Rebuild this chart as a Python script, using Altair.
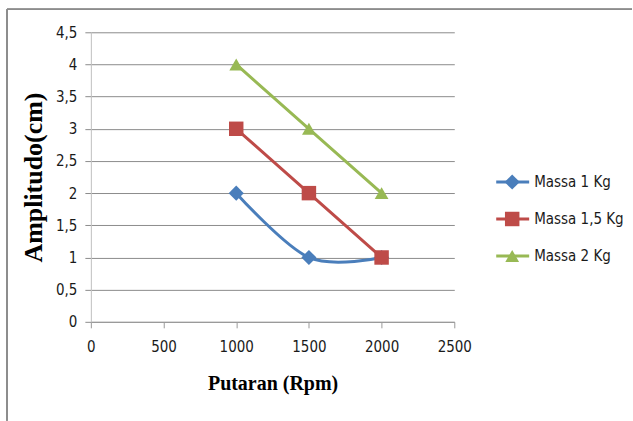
import altair as alt
import pandas as pd

rpm = [1000, 1500, 2000]
massa_1 = [2, 1, 1]
massa_15 = [3, 2, 1]
massa_2 = [4, 3, 2]
series = ["Massa 1 Kg", "Massa 1,5 Kg", "Massa 2 Kg"]
line_colors = ["#4A7EBB", "#BE4B48", "#98B954"]
shapes = ["diamond", "square", "triangle-up"]
sizes = [230, 190, 240]
y_ticks = [0, 0.5, 1, 1.5, 2, 2.5, 3, 3.5, 4, 4.5]
x_ticks = [0, 500, 1000, 1500, 2000, 2500]

rows = []
for s, vals in zip(series, [massa_1, massa_15, massa_2]):
    for x, v in zip(rpm, vals):
        rows.append({"rpm": x, "amp": v, "series": s})
df = pd.DataFrame(rows)
leg = pd.DataFrame({"series": series})

FONT = "DejaVu Sans Condensed, Liberation Sans"
SERIF = "Liberation Serif"

color = alt.Color("series:N", scale=alt.Scale(domain=series, range=line_colors), legend=None)
shape = alt.Shape("series:N", scale=alt.Scale(domain=series, range=shapes), legend=None)
size = alt.Size("series:N", scale=alt.Scale(domain=series, range=sizes), legend=None)

xaxis = alt.Axis(
    values=x_ticks, grid=False, title="Putaran (Rpm)", tickSize=6, format="d",
    labelPadding=12, titlePadding=19, titleFont=SERIF, titleFontSize=20,
    titleFontWeight="bold", titleColor="#000000", labelFont=FONT,
    labelFontSize=15, labelColor="#1a1a1a", domainColor="#9a9a9a",
    tickColor="#9a9a9a", labelFlush=False,
)
xscale = alt.Scale(domain=[0, 2500], nice=False)
yscale = alt.Scale(domain=[0, 4.5], nice=False)
yaxis = alt.Axis(
    values=y_ticks, grid=True, gridColor="#8c8c8c", gridWidth=1,
    title="Amplitudo(cm)", tickSize=6, labelPadding=8, titlePadding=9,
    titleFont=SERIF, titleFontSize=26, titleFontWeight="bold",
    titleColor="#000000", labelFont=FONT, labelFontSize=15,
    labelColor="#1a1a1a", domainColor="#c0c0c0", tickColor="#8c8c8c",
    labelExpr="replace(toString(datum.value), '.', ',')",
)
xenc = alt.X("rpm:Q", scale=xscale, axis=xaxis)
yenc = alt.Y("amp:Q", scale=yscale, axis=yaxis)

base = alt.Chart(df)
line1 = base.transform_filter(alt.datum.series == series[0]).mark_line(
    interpolate="cardinal", strokeWidth=3
).encode(x=xenc, y=yenc, color=color)
line2 = base.transform_filter(alt.datum.series != series[0]).mark_line(
    strokeWidth=3
).encode(x=xenc, y=yenc, color=color, detail="series:N")
pts = base.mark_point(filled=True, opacity=1).encode(
    x=xenc, y=yenc, color=color, shape=shape, size=size
)
main = alt.layer(line1, line2, pts)

lyenc = alt.Y(
    "series:N",
    scale=alt.Scale(type="point", domain=series, range=[150, 224], padding=0),
    axis=None,
)
lbase = alt.Chart(leg)
lrule = lbase.mark_rule(strokeWidth=3).encode(
    x=alt.value(406), x2=alt.value(439), y=lyenc, color=color
)
lpts = lbase.mark_point(filled=True, opacity=1).encode(
    x=alt.value(422), y=lyenc, color=color, shape=shape, size=size
)
ltext = lbase.mark_text(align="left", baseline="middle", font=FONT, fontSize=15, color="#1a1a1a").encode(
    x=alt.value(444), y=lyenc, text="series:N"
)
legend = alt.layer(lrule, lpts, ltext)

border_top = alt.Chart(leg).mark_rule(color="#8c8c8c", strokeWidth=1.5).encode(
    x=alt.value(-84), x2=alt.value(542), y=alt.value(-23)
)
border_left = alt.Chart(leg).mark_rule(color="#8c8c8c", strokeWidth=1.5).encode(
    x=alt.value(-84), y=alt.value(-23), y2=alt.value(389)
)

chart = alt.layer(main, legend, border_top, border_left).resolve_scale(
    y="independent"
).properties(
    width=364, height=290,
    padding={"left": 6, "top": 8, "right": 0, "bottom": 0},
    background="white",
).configure_view(stroke=None)

chart.save("out.html", embed_options={"renderer": "svg", "actions": False})
